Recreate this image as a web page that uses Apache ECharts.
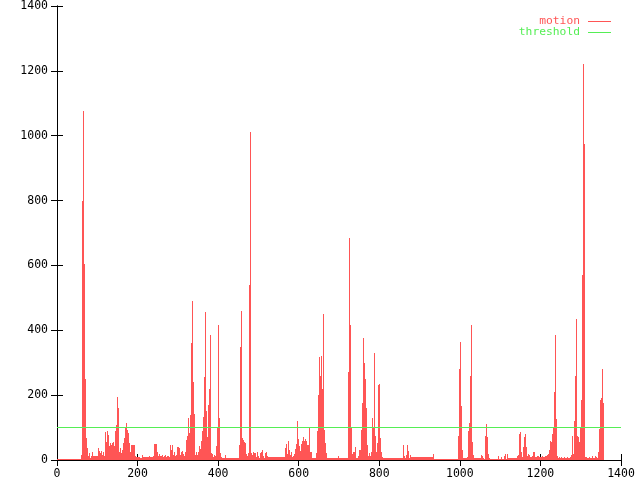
<!DOCTYPE html>
<html>
<head>
<meta charset="utf-8">
<script src="https://cdn.jsdelivr.net/npm/echarts@6/dist/echarts.min.js"></script>
<style>
html,body{margin:0;padding:0;background:#fff;}
#chart{width:640px;height:480px;}
</style>
</head>
<body>
<div id="chart"></div>
<script>
const xTicks = [0, 200, 400, 600, 800, 1000, 1200, 1400];
const yTicks = [0, 200, 400, 600, 800, 1000, 1200, 1400];
const seriesNames = ['motion', 'threshold'];
// motion values, one per sample, samples spaced sampleStep frames apart
const sampleStep = 2.48;
const motion = [
 3,3,3,3,3,3,3,3,3,3,
 3,3,3,3,3,3,3,3,3,3,
 3,3,3,3,
 16,800,1075,605,250,67,37,11,21,6,
 11,24,11,11,11,11,11,37,29,21,
 27,16,24,11,86,57,88,78,42,52,
 47,52,57,42,88,108,195,160,26,37,
 21,32,52,67,98,113,93,83,52,26,
 47,47,47,47,11,8,8,8,8,6,
 6,16,8,8,8,8,8,10,12,10,
 9,10,12,49,48,48,26,11,18,11,
 11,16,8,11,14,8,13,11,8,47,
 32,47,16,24,11,16,40,40,37,16,
 26,28,18,13,26,62,75,131,83,140,
 360,490,240,143,16,26,14,26,42,35,
 59,88,134,256,455,150,72,170,220,385,
 21,18,8,14,11,42,98,415,128,21,
 8,6,6,6,16,6,6,6,6,6,
 6,6,6,6,6,6,6,6,45,350,
 460,68,62,57,52,18,11,21,540,1010,
 21,16,26,21,21,8,26,11,6,21,
 26,30,11,6,21,26,13,8,8,8,
 8,8,8,8,8,8,8,8,8,8,
 8,8,8,8,37,50,20,60,30,15,
 25,10,12,20,35,50,120,65,42,28,
 50,60,70,60,65,60,47,47,100,26,
 26,6,6,6,6,21,88,200,317,260,
 320,220,450,93,52,21,6,6,6,6,
 6,6,6,6,6,6,6,11,6,6,
 6,6,6,6,6,6,6,270,685,415,
 98,18,26,26,40,6,6,11,32,32,
 92,175,375,300,250,160,45,11,21,11,
 26,130,100,330,75,26,52,230,235,68,
 26,8,6,6,6,6,6,6,6,6,
 6,6,6,6,6,6,6,6,6,6,
 6,6,47,11,6,16,47,28,6,16,
 8,8,8,8,8,8,8,8,8,8,
 8,8,8,8,8,8,8,8,8,8,
 8,8,18,3,3,3,3,3,3,3,
 3,3,3,3,3,3,3,3,3,3,
 3,3,3,3,3,3,3,75,280,365,
 165,30,6,6,6,6,8,90,115,260,
 415,55,15,6,6,6,6,6,6,6,
 16,11,6,3,75,112,70,20,6,3,
 3,3,3,3,3,3,3,11,3,3,
 8,3,3,11,20,3,20,6,6,6,
 6,6,6,6,6,6,11,16,80,85,
 26,8,40,70,80,40,11,18,16,8,
 8,12,26,26,8,8,11,11,8,8,
 8,12,8,8,11,11,16,18,32,60,
 55,80,100,210,385,125,12,6,8,6,
 8,6,6,8,6,6,8,6,6,8,
 16,75,20,120,260,435,75,70,55,100,
 185,570,1220,975,8,8,6,6,8,6,
 6,11,6,6,11,8,6,26,95,185,
 190,280,175
];
const thresholdValue = 100;
const thresholdRange = [0, 1400];

const RED = '#ff5555';
const GREEN = '#55ee55';
const FONT = 'DejaVu Sans Mono';

const motionData = motion.map((v, i) => [i * sampleStep, v]);
const thresholdData = [[thresholdRange[0], thresholdRange[1], thresholdValue]];

const chart = echarts.init(document.getElementById('chart'), null, {renderer: 'canvas'});

function axisCommon(showLabel) {
  return {
    type: 'value', min: 0, max: 1400, interval: 200,
    axisLine: {show: true, lineStyle: {color: '#000', width: 1}},
    axisTick: {show: true, inside: true, length: 6, lineStyle: {color: '#000', width: 1}},
    axisLabel: {show: showLabel, color: '#000', fontFamily: FONT, fontSize: 11.5},
    splitLine: {show: false}
  };
}

const xBottom = Object.assign(axisCommon(true), {position: 'bottom'});
xBottom.axisLabel.margin = 8;
xBottom.axisLabel.formatter = v => xTicks.includes(v) ? String(v) : '';
const xTop = Object.assign(axisCommon(false), {position: 'top'});
const yLeft = Object.assign(axisCommon(true), {position: 'left'});
yLeft.axisLabel.margin = 9;
yLeft.axisLabel.formatter = v => yTicks.includes(v) ? String(v) : '';
const yRight = Object.assign(axisCommon(false), {position: 'right'});

const legendText = {fontFamily: FONT, fontSize: 11.3};

chart.setOption({
  animation: false,
  color: [RED, GREEN],
  grid: {left: 57, right: 19, top: 5, bottom: 18, containLabel: false},
  xAxis: [xBottom, xTop],
  yAxis: [yLeft, yRight],
  graphic: [
    {type: 'text', right: 60, top: 16, style: Object.assign({text: seriesNames[0], fill: RED}, legendText)},
    {type: 'rect', left: 588, top: 21, shape: {width: 23, height: 1}, style: {fill: RED}},
    {type: 'text', right: 60, top: 27, style: Object.assign({text: seriesNames[1], fill: GREEN}, legendText)},
    {type: 'rect', left: 588, top: 32, shape: {width: 23, height: 1}, style: {fill: GREEN}}
  ],
  series: [
    {
      name: seriesNames[0], type: 'custom', xAxisIndex: 0, yAxisIndex: 0,
      itemStyle: {color: RED}, clip: true,
      data: motionData,
      renderItem: function (params, api) {
        const x = api.value(0), y = api.value(1);
        const p0 = api.coord([x, 0]);
        const p1 = api.coord([x, y]);
        const px = Math.round(p0[0]);
        const yb = Math.round(p0[1]);
        const yt = Math.round(p1[1]);
        return {type: 'rect', shape: {x: px, y: yt, width: 1, height: Math.max(0, yb - yt)},
          style: {fill: RED}};
      }
    },
    {
      name: seriesNames[1], type: 'custom', xAxisIndex: 0, yAxisIndex: 0,
      itemStyle: {color: GREEN}, z: 5,
      data: thresholdData,
      renderItem: function (params, api) {
        const a = api.coord([api.value(0), api.value(2)]);
        const b = api.coord([api.value(1), api.value(2)]);
        const y = Math.floor(a[1]);
        return {type: 'rect', shape: {x: Math.round(a[0]), y: y, width: Math.round(b[0]) - Math.round(a[0]), height: 1},
          style: {fill: GREEN}};
      }
    }
  ]
});
</script>
</body>
</html>
